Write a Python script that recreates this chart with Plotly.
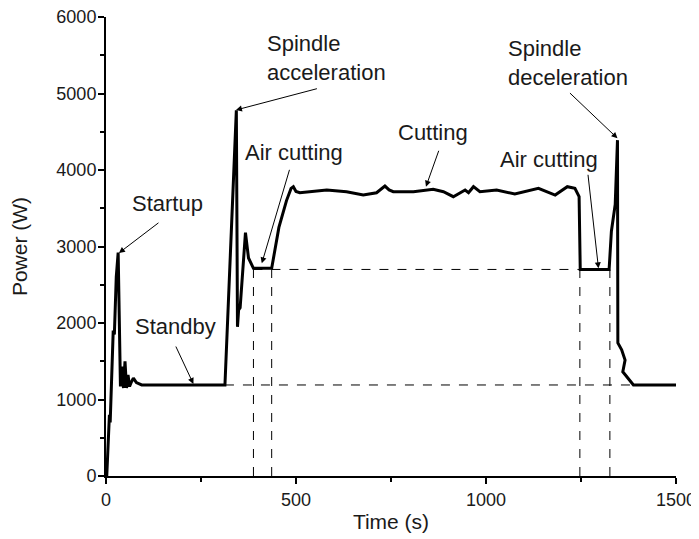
import plotly.graph_objects as go

# ---- data ----
time_s = [2, 6, 9, 11, 16, 19, 22, 27, 32,
          38, 42, 46, 50, 54, 58, 62, 66, 72, 80, 94, 313,
          328, 343, 346, 349, 353, 367, 375, 388, 436, 455, 475, 487, 493,
          500, 510, 536, 581, 633, 677, 712, 725, 734, 745, 756, 809, 861, 888,
          914, 945, 954, 967, 984, 1028, 1076, 1138, 1182, 1214, 1234, 1245,
          1248, 1324, 1330, 1340, 1346, 1347, 1357, 1366, 1360, 1388, 1500]
power_w = [0, 450, 800, 700, 1500, 1900, 1850, 2600, 2920,
           1170, 1430, 1150, 1500, 1150, 1320, 1170, 1220, 1280, 1220, 1190, 1190,
           2900, 4780, 1950, 2170, 2200, 3180, 2850, 2715, 2715, 3250, 3600, 3760, 3782,
           3720, 3703, 3716, 3738, 3716, 3673, 3703, 3760, 3790, 3740, 3716, 3716, 3747, 3716,
           3651, 3738, 3703, 3782, 3716, 3738, 3686, 3760, 3673, 3782, 3760, 3651,
           2700, 2700, 3200, 3550, 4390, 1740, 1650, 1516, 1363, 1190, 1190]

# reference levels / markers (dashed guide lines)
standby_level = 1190
aircut_level = 2700
standby_span = [313, 1388]
aircut_span = [388, 1247]
aircut_marks = [388, 436, 1247, 1326]

# annotation labels: (text, text_x, text_y, tail_x, tail_y, tip_x, tip_y)
labels = [
    ("Startup", 63, 3556, 142, 3324, 34, 2915),
    ("Standby", 70, 1948, 182, 1712, 230, 1203),
    ("Spindle<br>acceleration", 418, 5458, 559, 5068, 342, 4784),
    ("Air cutting", 361, 4235, 484, 4022, 410, 2780),
    ("Cutting", 763, 4484, 877, 4271, 842, 3782),
    ("Air cutting", 1031, 4137, 1268, 3957, 1296, 2715),
    ("Spindle<br>deceleration", 1053, 5405, 1217, 5024, 1346, 4414),
]

FONT = "Liberation Sans, Arial, sans-serif"
TXT = "#1a1a1a"

fig = go.Figure()

# dashed guide lines
dash = dict(color="black", width=1, dash="dash")
fig.add_trace(go.Scatter(x=standby_span, y=[standby_level] * 2, mode="lines",
                         line=dash, hoverinfo="skip", showlegend=False))
fig.add_trace(go.Scatter(x=aircut_span, y=[aircut_level] * 2, mode="lines",
                         line=dash, hoverinfo="skip", showlegend=False))
for m in aircut_marks:
    fig.add_trace(go.Scatter(x=[m, m], y=[0, aircut_level], mode="lines",
                             line=dash, hoverinfo="skip", showlegend=False))

# main power curve
fig.add_trace(go.Scatter(x=time_s, y=power_w, mode="lines",
                         line=dict(color="black", width=3), showlegend=False))

for text, tx, ty, ax_, ay_, x_, y_ in labels:
    fig.add_annotation(x=tx, y=ty, xref="x", yref="y", text=text, showarrow=False,
                       xanchor="left", yanchor="middle", align="left",
                       font=dict(family=FONT, size=22, color=TXT))
    fig.add_annotation(x=x_, y=y_, ax=ax_, ay=ay_, xref="x", yref="y",
                       axref="x", ayref="y", text="", showarrow=True,
                       arrowhead=2, arrowsize=1.2, arrowwidth=1, arrowcolor="black")

axis_common = dict(showline=True, linecolor="black", linewidth=2, mirror=False,
                   ticks="outside", ticklen=6, tickwidth=2, tickcolor="black",
                   showgrid=False, zeroline=False, automargin=False,
                   ticklabeloverflow="allow",
                   tickfont=dict(family=FONT, size=18, color=TXT),
                   title_font=dict(family=FONT, size=21, color=TXT))

fig.update_xaxes(range=[0, 1500], tickvals=[0, 500, 1000, 1500],
                 minor=dict(ticks="outside", ticklen=4, tickwidth=2, tickcolor="black",
                            tickvals=[250, 750, 1250]),
                 title_text="Time (s)", title_standoff=6, **axis_common)
fig.update_yaxes(range=[0, 6000], tickvals=[0, 1000, 2000, 3000, 4000, 5000, 6000],
                 minor=dict(ticks="outside", ticklen=4, tickwidth=2, tickcolor="black",
                            tickvals=[500, 1500, 2500, 3500, 4500, 5500]),
                 ticklabelstandoff=-2,
                 title_text="Power (W)", title_standoff=28, **axis_common)

# page body adds an 8px offset; size the figure so the plot area lands where the reference has it
fig.update_layout(width=691, height=531, margin=dict(l=98, r=23, t=9, b=63),
                  plot_bgcolor="white", paper_bgcolor="white", showlegend=False)

fig.write_html("out.html")
